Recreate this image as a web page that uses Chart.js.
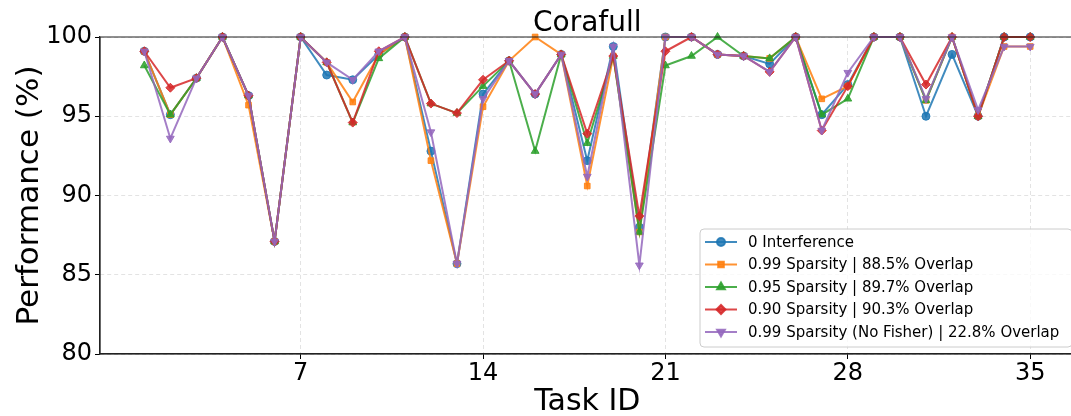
<!DOCTYPE html>
<html><head><meta charset="utf-8">
<script src="https://cdn.jsdelivr.net/npm/chart.js@4.4.1/dist/chart.umd.min.js"></script>
<style>html,body{margin:0;padding:0;background:#fff;overflow:hidden;width:1071px;height:416px}#wrap{position:absolute;left:0;top:0;width:1080px;height:420px}</style>
</head><body><div id="wrap"><canvas id="c" width="1080" height="420"></canvas></div>
<script>
const tasks = Array.from({length:35},(_, i)=>i+1);
const xTicks = [7,14,21,28,35];
const yTicks = [80,85,90,95,100];
const titleText = 'Corafull';
const labels = ["0 Interference","0.99 Sparsity | 88.5% Overlap","0.95 Sparsity | 89.7% Overlap","0.90 Sparsity | 90.3% Overlap","0.99 Sparsity (No Fisher) | 22.8% Overlap"];
const zeroInterference = [99.1,95.1,97.4,100,96.3,87.1,100,97.6,97.3,98.9,100,92.8,85.7,96.4,98.5,96.4,98.9,92.2,99.4,88.0,100,100,98.9,98.8,98.3,100,95.1,97.0,100,100,95.0,98.9,95.0,100,100];
const sp099 = [99.1,95.1,97.4,100,95.7,87.1,100,98.4,95.9,98.9,100,92.2,85.7,95.6,98.5,100,98.9,90.6,98.8,87.7,100,100,98.9,98.8,98.65,100,96.1,96.9,100,100,96.0,100,95.0,99.4,99.4];
const sp095 = [98.2,95.1,97.4,100,96.3,87.1,100,98.4,94.6,98.65,100,95.8,95.2,96.9,98.5,92.8,98.9,93.3,98.8,87.7,98.2,98.8,100,98.8,98.65,100,95.1,96.1,100,100,96.0,100,95.0,100,100];
const sp090 = [99.1,96.8,97.4,100,96.3,87.1,100,98.4,94.6,99.1,100,95.8,95.2,97.3,98.5,96.4,98.9,93.9,98.8,88.7,99.1,100,98.9,98.8,97.8,100,94.1,96.9,100,100,97.0,100,95.0,100,100];
const sp099nf = [99.1,93.6,97.4,100,96.3,87.1,100,98.4,97.3,99.1,100,94.0,85.7,96.1,98.5,96.4,98.9,91.2,99.4,85.6,100,100,98.9,98.8,97.8,100,94.1,97.75,100,100,96.1,100,95.4,99.4,99.4];
const series = [zeroInterference, sp099, sp095, sp090, sp099nf];
const colors = ['#1f77b4','#ff7f0e','#2ca02c','#d62728','#9467bd'];
const styles = ['circle','rect','triangle','rectRot','triangle'];
const rots = [0,0,0,0,180];
const radii = [4,4,4.5,4.5,4.5];
const FONT = "'DejaVu Sans', sans-serif";

function rgba(h,a){const n=parseInt(h.slice(1),16);return `rgba(${n>>16},${(n>>8)&255},${n&255},${a})`;}

const datasets = series.map((s,i)=>({
  label: labels[i],
  data: s.map((v,j)=>({x:tasks[j],y:v})),
  borderColor: rgba(colors[i],0.85),
  backgroundColor: rgba(colors[i],0.85),
  borderWidth: 2,
  pointStyle: styles[i],
  pointRotation: rots[i],
  pointRadius: radii[i],
  pointBorderWidth: 1,
  tension: 0,
  clip: false,
  order: 4 - i
}));

const legendPlugin = {
  id:'mplLegend',
  afterDraw(chart){
    const ctx = chart.ctx;
    const x0 = 700, y0 = 229, w = 372, h = 118;
    ctx.save();
    ctx.fillStyle='rgba(255,255,255,0.8)';
    ctx.strokeStyle='#cccccc';
    ctx.lineWidth=1;
    const r=4;
    ctx.beginPath();
    ctx.moveTo(x0+r,y0);ctx.lineTo(x0+w-r,y0);ctx.quadraticCurveTo(x0+w,y0,x0+w,y0+r);
    ctx.lineTo(x0+w,y0+h-r);ctx.quadraticCurveTo(x0+w,y0+h,x0+w-r,y0+h);
    ctx.lineTo(x0+r,y0+h);ctx.quadraticCurveTo(x0,y0+h,x0,y0+h-r);
    ctx.lineTo(x0,y0+r);ctx.quadraticCurveTo(x0,y0,x0+r,y0);ctx.closePath();
    ctx.fill();ctx.stroke();
    ctx.font = "15px "+FONT;
    ctx.textBaseline='middle';
    labels.forEach((lab,i)=>{
      const yy = 242+i*22.5;
      ctx.strokeStyle=rgba(colors[i],0.85);ctx.lineWidth=2;
      ctx.beginPath();ctx.moveTo(705,yy);ctx.lineTo(737,yy);ctx.stroke();
      ctx.fillStyle=rgba(colors[i],0.85);
      Chart.helpers.drawPoint(ctx,{pointStyle:styles[i],rotation:rots[i],radius:radii[i],borderWidth:1},721,yy);
      ctx.fillStyle='#000';
      ctx.fillText(lab,748,yy+1);
    });
    ctx.restore();
  }
};

new Chart(document.getElementById('c'),{
  type:'line',
  data:{datasets},
  options:{
    responsive:false, animation:false,
    layout:{padding:{left:0,right:5,top:37,bottom:0}},
    plugins:{
      legend:{display:false},
      tooltip:{enabled:false},
      title:{display:false}
    },
    scales:{
      x:{type:'linear',min:-0.7,max:36.7,
        afterBuildTicks(ax){ax.ticks = xTicks.map(v=>({value:v}));},
        afterFit(ax){ax.height = 66;},
        ticks:{font:{family:FONT,size:24},color:'#000',padding:0,maxRotation:0,autoSkip:false},
        grid:{color:'rgba(176,176,176,0.35)',tickColor:'#000',tickLength:5,drawTicks:true},
        border:{display:true,color:'#222',width:1.2,dash:[4,3]},
        title:{display:true,text:'Task ID',font:{family:FONT,size:30},color:'#000',padding:{top:0,bottom:0}}
      },
      y:{min:80,max:100,
        afterBuildTicks(ax){ax.ticks = yTicks.map(v=>({value:v}));},
        afterFit(ax){ax.width = 100;},
        ticks:{font:{family:FONT,size:24},color:'#000',padding:3},
        grid:{color:'rgba(176,176,176,0.35)',tickColor:'#000',tickLength:5},
        border:{display:true,color:'#222',width:1.2,dash:[4,3]},
        title:{display:true,text:'Performance (%)',font:{family:FONT,size:31},color:'#000',padding:{top:11,bottom:0}}
      }
    }
  },
  plugins:[{
    id:'spines',
    afterDraw(chart){
      const a=chart.chartArea, ctx=chart.ctx;
      ctx.save();ctx.strokeStyle='#222';ctx.lineWidth=1.2;ctx.setLineDash([]);
      ctx.beginPath();ctx.moveTo(a.left,a.bottom);ctx.lineTo(a.left,a.top);ctx.lineTo(a.right,a.top);ctx.lineTo(a.right,a.bottom);ctx.lineTo(a.left,a.bottom);ctx.stroke();
      ctx.fillStyle='#000';ctx.font='28px '+FONT;ctx.textAlign='center';ctx.textBaseline='alphabetic';
      ctx.fillText(titleText,(a.left+a.right)/2,31);
      ctx.restore();
    }
  }, legendPlugin]
});
</script></body></html>
